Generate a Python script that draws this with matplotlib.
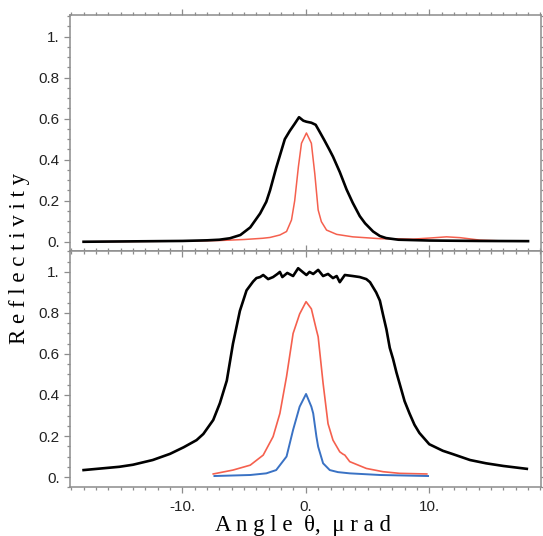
import numpy as np
import matplotlib
matplotlib.use('Agg')
import matplotlib.pyplot as plt
from matplotlib.ticker import MultipleLocator, FuncFormatter

# top panel curves
top_black_x = [-18, -14, -10, -8, -7, -6.15, -5.3, -4.5, -3.7, -3.2, -2.9, -2.4, -2.1, -1.7,
               -1.3, -0.9, -0.55, -0.2, 0.05, 0.45, 0.8, 1.13, 1.5, 1.9, 2.2, 2.75, 3.3,
               3.8, 4.37, 4.8, 5.45, 6.0, 6.5, 7.5, 10, 14, 18]
top_black_y = [0.0, 0.002, 0.004, 0.007, 0.01, 0.017, 0.033, 0.07, 0.138, 0.195, 0.25, 0.36,
               0.42, 0.5, 0.54, 0.575, 0.607, 0.59, 0.585, 0.58, 0.57, 0.535, 0.495, 0.45,
               0.415, 0.34, 0.255, 0.19, 0.125, 0.09, 0.05, 0.028, 0.018, 0.01, 0.006, 0.004, 0.003]
top_red_x = [-18, -10, -7, -5, -3.5, -2.9, -2.1, -1.56, -1.16, -0.9, -0.6, -0.35, 0.05, 0.45,
             0.73, 1.0, 1.26, 1.68, 2.5, 3.8, 6.0, 8.7, 10, 11.4, 12.5, 14.1, 16, 18]
top_red_y = [0.0, 0.003, 0.006, 0.011, 0.017, 0.021, 0.033, 0.05, 0.106, 0.2, 0.366, 0.48,
             0.53, 0.48, 0.33, 0.155, 0.098, 0.057, 0.036, 0.024, 0.015, 0.013, 0.018, 0.024,
             0.02, 0.008, 0.004, 0.003]

# bottom panel curves
bot_black_x = [-18, -16, -15.1, -14, -12.4, -11, -9.9, -8.85, -8.3, -7.5, -6.96, -6.4, -5.9,
               -5.34, -4.8, -4.27, -4.0, -3.7, -3.45, -3.05, -2.65, -2.3, -2.1, -1.9, -1.5,
               -1.03, -0.62, -0.2, 0.05, 0.3, 0.6, 1.0, 1.4, 1.8, 2.2, 2.5, 2.75, 3.16, 3.8,
               4.37, 4.9, 5.2, 5.7, 6.0, 6.26, 6.53, 6.8, 7.07, 7.34, 7.6, 8.0, 8.4, 8.8, 9.2,
               10.0, 11.1, 11.9, 13.3, 14.6, 16, 17.9]
bot_black_y = [0.034, 0.045, 0.05, 0.06, 0.083, 0.113, 0.145, 0.18, 0.21, 0.278, 0.36, 0.47,
               0.65, 0.81, 0.91, 0.953, 0.97, 0.975, 0.985, 0.965, 0.975, 0.99, 1.0, 0.975,
               0.995, 0.98, 1.018, 0.997, 0.985, 1.0, 0.99, 1.01, 0.98, 0.99, 0.97, 0.98, 0.95,
               0.985, 0.98, 0.975, 0.965, 0.95, 0.9, 0.86, 0.79, 0.72, 0.63, 0.575, 0.51,
               0.455, 0.37, 0.31, 0.255, 0.215, 0.16, 0.128, 0.112, 0.083, 0.067, 0.054, 0.04]
bot_red_x = [-7.5, -5.9, -4.5, -3.45, -2.65, -2.1, -1.56, -1.03, -0.5, 0.02, 0.45, 0.86, 1.0,
             1.4, 1.8, 2.2, 2.75, 3.0, 3.16, 3.56, 4.9, 6.26, 7.6, 9.8]
bot_red_y = [0.015, 0.034, 0.058, 0.107, 0.197, 0.31, 0.49, 0.70, 0.795, 0.855, 0.82, 0.717,
             0.684, 0.457, 0.26, 0.18, 0.123, 0.112, 0.107, 0.075, 0.042, 0.026, 0.018, 0.015]
bot_blue_x = [-7.4, -4.5, -3.2, -2.4, -1.56, -1.03, -0.5, 0.02, 0.45, 0.6, 0.86, 1.0, 1.4,
              1.94, 2.6, 3.56, 6.0, 9.9]
bot_blue_y = [0.005, 0.01, 0.018, 0.034, 0.1, 0.23, 0.343, 0.405, 0.343, 0.31, 0.197, 0.148,
              0.067, 0.034, 0.024, 0.018, 0.01, 0.005]

x_ticks = [-10, 0, 10]
y_ticks = [0, 0.2, 0.4, 0.6, 0.8, 1.0]

BLACK = '#000000'
RED = '#f5604e'
BLUE = '#3a72c4'
FRAME = '#8c8c8c'


def fmt(v, pos=None):
    s = ('%.1f' % v).rstrip('0')
    if s in ('-0.', '-0'):
        s = '0.'
    return s


plt.rcParams['font.family'] = ['Liberation Sans', 'DejaVu Sans']

fig = plt.figure(figsize=(5.43, 5.36), dpi=100)
L, R = 70 / 543, 541 / 543
ax1 = fig.add_axes([L, 1 - 251 / 536, R - L, (251 - 15) / 536])
ax2 = fig.add_axes([L, 1 - 487.3 / 536, R - L, (487.3 - 251) / 536])

for ax, ylim in ((ax1, (-0.045, 1.105)), (ax2, (-0.05, 1.102))):
    ax.set_xlim(-19.1, 19.05)
    ax.set_ylim(*ylim)
    ax.set_xticks(x_ticks)
    ax.xaxis.set_minor_locator(MultipleLocator(1))
    ax.set_yticks(y_ticks)
    ax.yaxis.set_minor_locator(MultipleLocator(0.05))
    ax.yaxis.set_major_formatter(FuncFormatter(fmt))
    for sp in ax.spines.values():
        sp.set_color(FRAME)
        sp.set_linewidth(1.1)
    ax.tick_params(which='both', color=FRAME, width=0.9, labelsize=11,
                   labelcolor='#222222', top=True, right=True)
    ax.tick_params(which='major', length=4)
    ax.tick_params(which='minor', length=2.5)
    ax.tick_params(axis='y', which='both', direction='out')

ax1.tick_params(axis='x', which='both', direction='in', labelbottom=False)
# top spine ticks of upper panel point outward
for t in ax1.xaxis.get_major_ticks() + ax1.xaxis.get_minor_ticks():
    t.tick2line.set_marker(matplotlib.lines.TICKUP)
ax2.tick_params(axis='x', which='both', direction='out', pad=5)
for t in ax2.xaxis.get_major_ticks() + ax2.xaxis.get_minor_ticks():
    t.tick2line.set_marker(matplotlib.lines.TICKDOWN)
ax2.xaxis.set_major_formatter(FuncFormatter(fmt))

ax1.plot(top_red_x, top_red_y, color=RED, lw=1.1)
ax1.plot(top_black_x, top_black_y, color=BLACK, lw=1.9)

ax2.plot(bot_black_x, bot_black_y, color=BLACK, lw=1.9)
ax2.plot(bot_red_x, bot_red_y, color=RED, lw=1.2)
ax2.plot(bot_blue_x, bot_blue_y, color=BLUE, lw=1.4)

fig.text(0.035, 1 - 258 / 536, 'R e f l e c t i v i t y', rotation=90, ha='center',
         va='center', family='Liberation Serif', fontsize=16.5)
fig.text(303 / 543, 1 - 525 / 536, 'A n g l e  θ,  μ r a d', ha='center', va='center',
         family='Liberation Serif', fontsize=16.5)

fig.savefig('out.png', dpi=100)
